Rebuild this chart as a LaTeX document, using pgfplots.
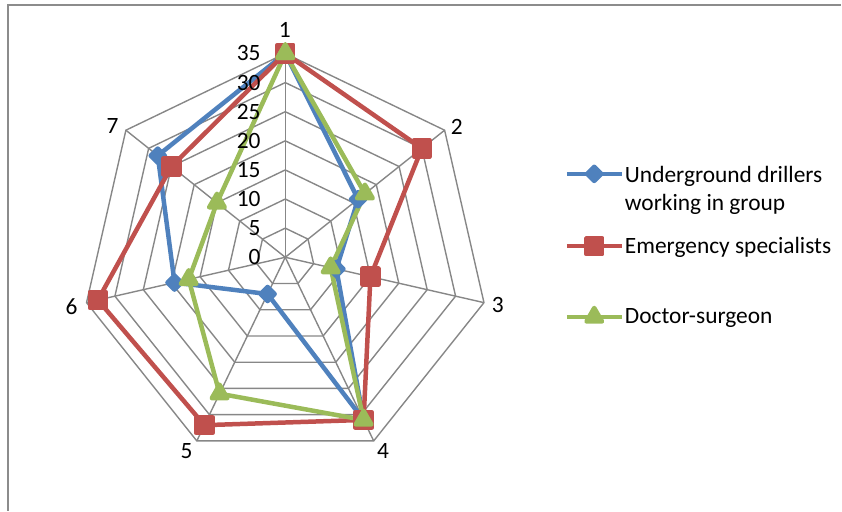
\documentclass[border=0pt]{standalone}
\usepackage{pgfplots}
\pgfplotsset{compat=1.18}
\usepackage{pgfplotstable}
\usepackage{fontspec}
\setmainfont{Carlito}
\definecolor{cblue}{HTML}{4F81BD}
\definecolor{cred}{HTML}{C0504D}
\definecolor{cgreen}{HTML}{9BBB59}
\definecolor{cgrid}{HTML}{878787}
\definecolor{cframe}{HTML}{8C8C8C}
\pgfplotstableread{
angle blue red green
90 35 35 35
38.5714 16 30 17.5
347.1429 9 15 8
295.7143 31 31 31
244.2857 7 32 26
192.8571 19.5 33 17
141.4286 28 25 15
90 35 35 35
}\radar
\begin{document}
\begin{tikzpicture}[font=\fontsize{23.5}{28}\selectfont]
\begin{axis}[
  scale only axis, width=842bp, height=511bp,
  xmin=-48.98, xmax=95.47, ymin=-43.49, ymax=44.18,
  hide axis, clip=false,
  legend cell align=left,
  legend style={at={(axis cs:47.95,16.13)}, anchor=north west, draw=none, fill=none,
    inner sep=0pt, outer sep=0pt, column sep=1bp, row sep=53bp,
    nodes={inner sep=0pt, outer sep=0pt}},
  legend image code/.code={\draw[mark repeat=2,mark phase=2,#1] plot coordinates {(0bp,0bp) (27.5bp,0bp) (55bp,0bp)};},
]
\path (rel axis cs:0,0) rectangle (rel axis cs:1,1);
\draw[cframe, line width=1.5bp] (axis cs:-47.6,-43.49) -- (axis cs:-47.6,43.32) -- (axis cs:95.47,43.32);
% grid rings
\pgfplotsinvokeforeach{5,10,15,20,25,30,35}{
  \addplot[cgrid, line width=1.4bp, data cs=polar, forget plot] coordinates {(90,#1) (38.5714,#1) (347.1429,#1) (295.7143,#1) (244.2857,#1) (192.8571,#1) (141.4286,#1) (90,#1)};
}
% spokes
\pgfplotsinvokeforeach{90,38.5714,347.1429,295.7143,244.2857,192.8571,141.4286}{
  \addplot[cgrid, line width=1.4bp, data cs=polar, forget plot] coordinates {(#1,0) (#1,35)};
}
\addplot[cblue, line width=4.5bp, line join=round, data cs=polar, mark=square*, mark size=5bp, mark options={rotate=45, solid, fill=cblue}] table[x=angle, y=blue] {\radar};
\addlegendentry{\raisebox{0pt}[\height][0pt]{\begin{tabular}[t]{@{}l@{}}Underground drillers\\working in group\end{tabular}}}
\addplot[cred, line width=4.5bp, line join=round, data cs=polar, mark=square*, mark size=8bp, mark options={solid, fill=cred}] table[x=angle, y=red] {\radar};
\addlegendentry{Emergency specialists}
\addplot[cgreen, line width=4.5bp, line join=round, data cs=polar, mark=triangle*, mark size=9bp, mark options={solid, fill=cgreen}] table[x=angle, y=green] {\radar};
\addlegendentry{Doctor-surgeon}
% radial tick labels
\pgfplotsinvokeforeach{0,5,10,15,20,25,30,35}{
  \node[anchor=east, inner sep=0pt] at (axis cs:-4.2,#1) {#1};
}
% category labels
\node at (axis cs:-0.09,39.03) {1};
\node at (axis cs:29.47,22.44) {2};
\node at (axis cs:36.51,-8.15) {3};
\node at (axis cs:16.78,-33.32) {4};
\node at (axis cs:-16.95,-33.32) {5};
\node at (axis cs:-36.68,-8.44) {6};
\node at (axis cs:-29.64,22.56) {7};
\end{axis}
\end{tikzpicture}
\end{document}
